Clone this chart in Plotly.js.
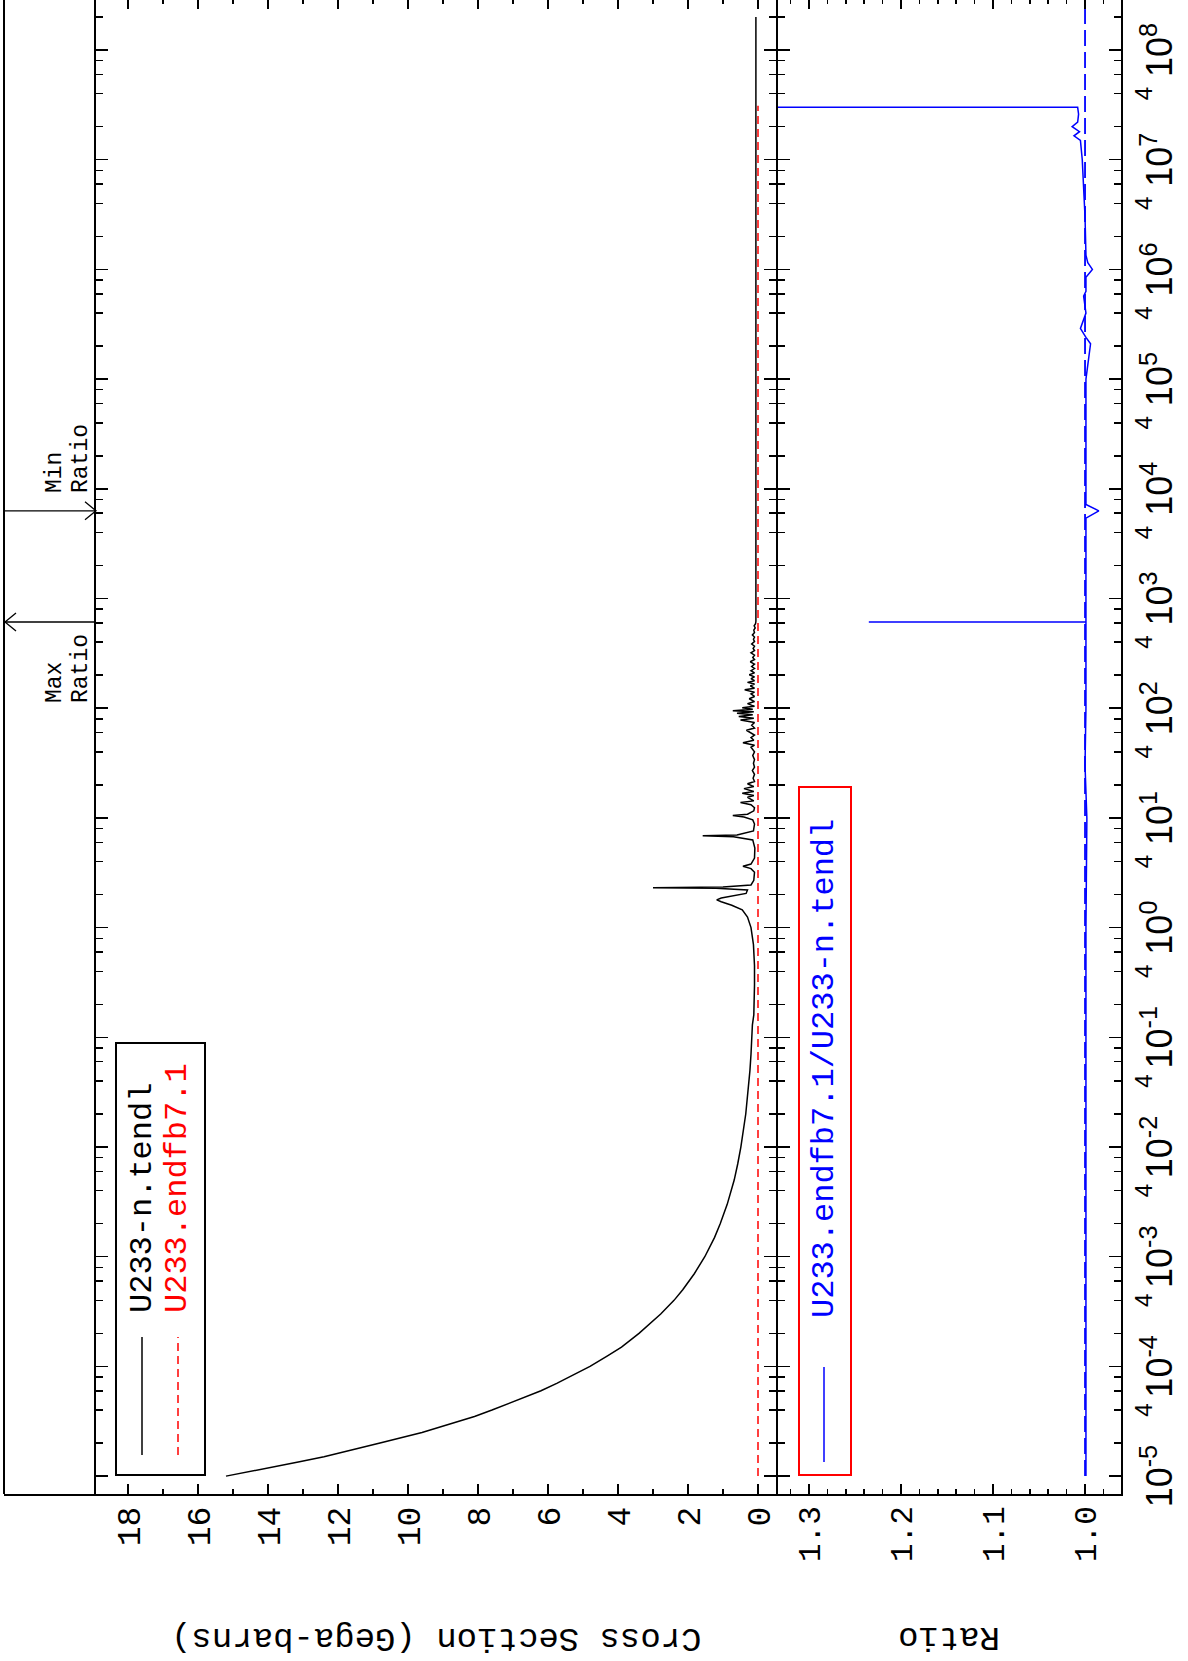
<!DOCTYPE html>
<html><head><meta charset="utf-8">
<script src="https://cdn.plot.ly/plotly-3.0.1.min.js"></script>
<style>
html,body{margin:0;padding:0;overflow:hidden;background:#fff;width:1188px;height:1661px}
#wrap{position:absolute;left:0;top:0;width:1662px;height:1188px;transform-origin:0 0;transform:translate(0px,1661px) rotate(-90deg)}
#plot{width:1662px;height:1188px}
</style></head>
<body><div id="wrap"><div id="plot"></div></div>
<script>
// ---- data (energy in eV) ----
const tendlE = [1e-5,1.1e-5,1.2e-5,1.35e-5,1.5e-5,1.75e-5,2e-5,2.5e-5,3e-5,3.5e-5,4e-5,5e-5,6e-5,7e-5,8e-5,1e-4,1.25e-4,1.5e-4,2e-4,2.5e-4,3e-4,4e-4,5e-4,7e-4,1e-3,1.5e-3,2e-3,3e-3,5e-3,7e-3,1e-2,2e-2,3e-2,5e-2,7e-2,0.1,0.13,0.16,0.2,0.3,0.45,0.7,1.0,1.25,1.45,1.6,1.72,1.79,1.86,1.96,2.05,2.2,2.28,2.31,2.34,2.45,2.7,3.2,3.45,3.62,3.8,4.3,5.3,6.3,6.75,6.88,7.0,7.6,8.8,9.6,10.2,10.5,10.8,11.6,12.4,13.2,13.8,14.3,15.4,16.0,16.8,17.4,18.5,19.3,20.5,21.5,23,25,27,29,31.5,34,37,40,44,46,48.5,51,54,57,63,66,70,74,78,81,84,87,90,93,95,98,101,104,110,115,122,128,135,140,147,152,160,166,172,178,186,193,202,210,220,230,240,252,265,278,290,305,320,335,350,368,385,405,425,445,465,490,515,540,565,590,620,1e3,1e5,1e7,2e8];
const tendlXS = [15.2,14.5,13.9,13.1,12.4,11.5,10.8,9.6,8.8,8.1,7.6,6.8,6.2,5.75,5.4,4.8,4.3,3.9,3.4,3.05,2.78,2.4,2.15,1.82,1.52,1.24,1.08,0.88,0.68,0.58,0.49,0.35,0.29,0.23,0.2,0.17,0.16,0.12,0.11,0.1,0.1,0.13,0.2,0.3,0.45,0.75,1.05,1.18,1.05,0.6,0.34,0.3,1.2,3.0,1.0,0.2,0.12,0.1,0.2,0.43,0.2,0.1,0.09,0.15,0.7,1.58,0.6,0.13,0.1,0.15,0.4,0.72,0.3,0.12,0.1,0.2,0.5,0.12,0.3,0.12,0.45,0.12,0.4,0.12,0.3,0.1,0.14,0.1,0.16,0.1,0.13,0.1,0.15,0.1,0.2,0.1,0.43,0.12,0.2,0.1,0.33,0.1,0.18,0.1,0.5,0.12,0.55,0.15,0.6,0.12,0.72,0.15,0.45,0.1,0.3,0.1,0.25,0.1,0.2,0.1,0.38,0.1,0.22,0.1,0.3,0.1,0.2,0.1,0.25,0.1,0.2,0.1,0.18,0.1,0.22,0.1,0.15,0.1,0.2,0.1,0.14,0.1,0.18,0.1,0.13,0.1,0.16,0.1,0.12,0.08,0.11,0.07,0.06,0.06,0.06,0.06,0.06];
const endfE  = [1e-5, 3.1e7];
const endfXS = [0, 0];
const ratioE = [1e-5,1e-3,0.1,1,10,30,100,300,610,611,612,1e3,3e3,5.4e3,6.3e3,7.2e3,3e4,1e5,2.1e5,2.4e5,2.9e5,3.2e5,4e5,5.7e5,6.3e5,8.5e5,1.0e6,1.15e6,1.35e6,3e6,1e7,1.5e7,1.65e7,1.8e7,2.0e7,2.2e7,2.6e7,3.0e7,3.0e7];
const ratioV = [0.999,0.999,0.999,0.999,0.998,1.0,0.999,0.999,0.999,1.235,0.999,0.999,0.999,0.999,0.985,0.999,0.999,0.999,0.994,0.999,1.005,1.003,0.999,1.0015,0.999,0.999,0.992,0.997,0.999,1.0,1.003,1.005,1.012,1.006,1.014,1.008,1.007,1.008,1.6];
const refE = [1e-5, 3e8];
const refV = [1.0, 1.0];
const maxRatioE = 611, minRatioE = 6.3e3;
// ticks
const decadeExp = [-5,-4,-3,-2,-1,0,1,2,3,4,5,6,7,8];
const minorMult = [2,4,6,8];
const labelMult = 4;
const xsTicks = [0,2,4,6,8,10,12,14,16,18];
const ratioTicks = [1.0,1.1,1.2,1.3];
const legendMain = ['U233-n.tendl','U233.endfb7.1'];
const legendRatio = 'U233.endfb7.1/U233-n.tendl';

// ---- geometry (unrotated page: 1662 x 1188) ----
const L=167, T=96, B=1121, SEP=777, W=1662, H=1188, TOPLINE=4, LW=2;
const XR=[-5.163, 8.465];
const px = x => (x-L)/(W-L);
const py = y => (B-y)/(B-T);
const pe = e => (Math.log10(e)-XR[0])/(XR[1]-XR[0]);
const splitDom = py(SEP+LW/2);
const mainBottom = splitDom + LW/(B-T);
const ratioLo = 0.9609, ratioHi = 1.0 + (1085-(SEP+LW/2))/920;
const xsLo = -(SEP-LW/2-758)/35, xsHi = (758-T)/35;

const decVals = decadeExp.map(n=>Math.pow(10,n));
const decText = decadeExp.map(n=>'10<sup>'+n+'</sup>');
const minVals=[]; decadeExp.forEach(n=>minorMult.forEach(m=>minVals.push(m*Math.pow(10,n))));
const fourVals = decadeExp.map(n=>labelMult*Math.pow(10,n));
const fourText = fourVals.map(()=>String(labelMult));

const mono='Liberation Mono, Courier New, monospace';
const sans='Liberation Sans, Arial, sans-serif';
const BL='#000000';

const traces = [
 {x:tendlE,y:tendlXS,xaxis:'x2',yaxis:'y',mode:'lines',line:{color:BL,width:1.5},hoverinfo:'skip'},
 {x:endfE,y:endfXS,xaxis:'x2',yaxis:'y',mode:'lines',line:{color:'#ff0000',width:1.5,dash:'8px,5px'},hoverinfo:'skip'},
 {x:refE,y:refV,xaxis:'x3',yaxis:'y2',mode:'lines',line:{color:'#0000ff',width:1.8,dash:'16px,6px'},hoverinfo:'skip'},
 {x:ratioE,y:ratioV,xaxis:'x',yaxis:'y2',mode:'lines',line:{color:'#0000ff',width:1.5},hoverinfo:'skip'}
];

const axX = {type:'log',range:XR,showgrid:false,zeroline:false,showline:true,linecolor:BL,linewidth:LW,
  mirror:'ticks',ticks:'inside',ticklen:12,tickwidth:1.5,tickcolor:BL,tickmode:'array',tickvals:decVals,
  minor:{tickmode:'array',tickvals:minVals,ticks:'inside',ticklen:7,tickwidth:1.5,tickcolor:BL}};

const layout = {
 width:W,height:H,margin:{l:L,r:0,t:T,b:H-B,pad:0},paper_bgcolor:'#fff',plot_bgcolor:'#fff',showlegend:false,
 xaxis:Object.assign({},axX,{anchor:'y2',ticktext:decText,ticklabelstandoff:6,tickfont:{family:sans,size:36,color:BL}}),
 xaxis2:Object.assign({},axX,{anchor:'y',showticklabels:false}),
 xaxis3:{type:'log',range:XR,overlaying:'x',anchor:'y2',side:'bottom',showgrid:false,zeroline:false,showline:false,
   ticks:'',tickmode:'array',tickvals:fourVals,ticktext:fourText,ticklabelstandoff:6,tickfont:{family:sans,size:24,color:BL}},
 yaxis:{domain:[mainBottom,1],range:[xsLo,xsHi],anchor:'x2',showgrid:false,zeroline:false,showline:true,linecolor:BL,linewidth:LW,
   mirror:'ticks',ticks:'inside',ticklen:10,tickwidth:1.5,tickcolor:BL,tickmode:'array',tickvals:xsTicks,ticklabelstandoff:4,
   tickfont:{family:mono,size:33,color:BL},minor:{dtick:1,tick0:0,ticks:'inside',ticklen:5,tickwidth:1.5,tickcolor:BL}},
 yaxis2:{domain:[0,splitDom],range:[ratioLo,ratioHi],anchor:'x',showgrid:false,zeroline:false,showline:true,linecolor:BL,linewidth:LW,
   mirror:'ticks',ticks:'inside',ticklen:10,tickwidth:1.5,tickcolor:BL,tickmode:'array',tickvals:ratioTicks,tickformat:'.1f',ticklabelstandoff:4,
   tickfont:{family:mono,size:31,color:BL},minor:{dtick:0.02,tick0:1.0,ticks:'inside',ticklen:5,tickwidth:1.5,tickcolor:BL}},
 shapes:[],annotations:[]
};
const S=layout.shapes, A=layout.annotations;
const ln=(x0,y0,x1,y1,c,w,d)=>S.push({type:'line',xref:'paper',yref:'paper',x0:x0,y0:y0,x1:x1,y1:y1,line:{color:c,width:w,dash:d||'solid'}});
// top strip frame
ln(0,py(TOPLINE),1.01,py(TOPLINE),BL,2);
ln(-1/(W-L),py(TOPLINE),-1/(W-L),1,BL,2);
// max / min ratio arrows
const xm=pe(minRatioE), xM=pe(maxRatioE), dx=9/(W-L);
ln(xm,py(TOPLINE),xm,1,BL,1.3);
S.push({type:'path',xref:'paper',yref:'paper',path:`M ${xm-dx},${py(85)} L ${xm},${py(T)} L ${xm+dx},${py(85)}`,line:{color:BL,width:1.3}});
ln(xM,py(TOPLINE),xM,1,BL,1.3);
S.push({type:'path',xref:'paper',yref:'paper',path:`M ${xM-dx},${py(16)} L ${xM},${py(5)} L ${xM+dx},${py(16)}`,line:{color:BL,width:1.3}});
const txt=(x,y,t,size,color,fam,xa,ang)=>A.push({xref:'paper',yref:'paper',x:x,y:y,text:t,showarrow:false,xanchor:xa||'left',yanchor:'middle',textangle:ang||0,font:{family:fam||mono,size:size,color:color||BL}});
txt(xm+16/(W-L),py(55),'Min',23);
txt(xm+16/(W-L),py(81),'Ratio',23);
txt(xM-83/(W-L),py(55),'Max',23);
txt(xM-83/(W-L),py(81),'Ratio',23);
// main legend
S.push({type:'rect',xref:'paper',yref:'paper',x0:px(186),x1:px(618),y0:py(205),y1:py(116),line:{color:BL,width:2}});
ln(px(206),py(142),px(324),py(142),BL,1.5);
ln(px(206),py(178),px(324),py(178),'#ff0000',1.5,'8px,5px');
txt(px(346),py(142),legendMain[0],32,BL);
txt(px(346),py(178),legendMain[1],32,'#ff0000');
// ratio legend
S.push({type:'rect',xref:'paper',yref:'paper',x0:px(186),x1:px(874),y0:py(851),y1:py(799),line:{color:'#ff0000',width:2}});
ln(px(199),py(824),px(294),py(824),'#0000ff',1.5);
txt(px(341),py(824),legendRatio,32,'#0000ff');
// axis titles
txt(px(24),py((T+SEP)/2),'Cross Section (Gega-barns)',34,BL,mono,'center',-90);
txt(px(24),py((SEP+B)/2),'Ratio',34,BL,mono,'center',-90);

Plotly.newPlot('plot',traces,layout,{staticPlot:true,displayModeBar:false});
</script></body></html>
